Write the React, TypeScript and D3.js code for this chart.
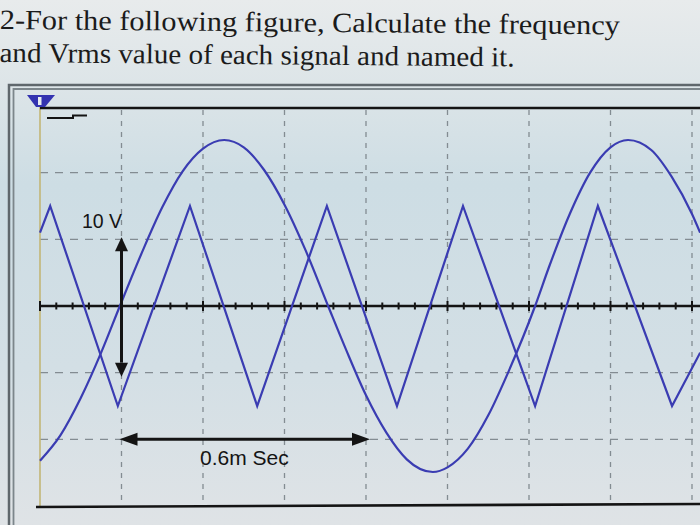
import * as d3 from 'd3';
import React from 'react';

// time in ms (0.2 ms / div), voltage in V (5 V / div)
const triTime = [0, 0.025, 0.191, 0.368, 0.533, 0.704, 0.876, 1.038, 1.215, 1.369, 1.551, 1.62];
const triVolt = [5.5, 7.5, -7.5, 7.5, -7.5, 7.5, -7.5, 7.5, -7.5, 7.5, -7.5, -3.5];

const sineTime = [
  0, 0.05, 0.1, 0.15, 0.196, 0.25, 0.3, 0.35, 0.4, 0.452, 0.5, 0.55, 0.6, 0.65, 0.707,
  0.75, 0.8, 0.85, 0.9, 0.964, 1.0, 1.05, 1.1, 1.15, 1.215, 1.25, 1.3, 1.35, 1.4, 1.443,
  1.5, 1.55, 1.6, 1.62,
];
const sineVolt = [
  -11.6, -9.7, -6.9, -3.5, 0, 4.0, 7.4, 10.1, 11.8, 12.45, 11.9, 10.2, 7.6, 4.3, 0,
  -3.2, -6.7, -9.5, -11.5, -12.45, -12.1, -10.7, -8.2, -4.9, 0, 3.0, 6.9, 10.0, 11.9, 12.45,
  11.7, 9.7, 6.9, 5.5,
];

const gridTimes = [0.2, 0.4, 0.6, 0.8, 1.0, 1.2, 1.4, 1.6];
const gridVolts = [-10, -5, 5, 10];

const titleLines = [
  '2-For the following figure, Calculate the frequency',
  'and Vrms value of each signal and named it.',
];
const voltLabel = '10 V';
const timeLabel = '0.6m Sec';

const W = 700;
const H = 525;

const App: React.FC = () => {
  const x = d3.scaleLinear().domain([0, 1.6]).range([40, 692]);
  const y = d3.scaleLinear().domain([-15, 15]).range([506, 106]);

  const triPath = d3
    .line<[number, number]>()
    .x(d => x(d[0]))
    .y(d => y(d[1]))(triTime.map((t, i) => [t, triVolt[i]]))!;

  const sinePath = d3
    .line<[number, number]>()
    .x(d => x(d[0]))
    .y(d => y(d[1]))
    .curve(d3.curveMonotoneX)(sineTime.map((t, i) => [t, sineVolt[i]]))!;

  // minor ticks on centre axis (5 per division)
  const ticks = d3.range(0, 41).map(i => i * 0.04);

  const trace = '#3a3cb2';
  const ink = '#141414';

  const arrowHead = (tx: number, ty: number, dir: 'up' | 'down' | 'left' | 'right') => {
    const L = 14;
    const w = 6.5;
    let pts: number[][] = [];
    if (dir === 'up') pts = [[tx, ty], [tx - w, ty + L], [tx + w, ty + L]];
    if (dir === 'down') pts = [[tx, ty], [tx - w, ty - L], [tx + w, ty - L]];
    if (dir === 'left') pts = [[tx, ty], [tx + L + 4, ty - w], [tx + L + 4, ty + w]];
    if (dir === 'right') pts = [[tx, ty], [tx - L - 4, ty - w], [tx - L - 4, ty + w]];
    return <polygon points={pts.map(p => p.join(',')).join(' ')} fill={ink} />;
  };

  const x0 = x(0);
  const yTop = y(15);
  const yBot = y(-15);
  const yMid = y(0);

  return (
    <svg width={W} height={H} style={{ position: 'absolute', left: 0, top: 0 }}>
      <defs>
        <linearGradient id="paper" x1="0" y1="0" x2="0" y2="1">
          <stop offset="0" stopColor="#e8ebec" />
          <stop offset="0.16" stopColor="#dde5e8" />
          <stop offset="0.35" stopColor="#cddde4" />
          <stop offset="0.7" stopColor="#d3dfe5" />
          <stop offset="1" stopColor="#dfe3e6" />
        </linearGradient>
      </defs>
      <rect width={W} height={H} fill="url(#paper)" />

      {/* question text */}
      <g fontFamily="'Liberation Serif', 'Times New Roman', serif" fill="#1b1b1b" fontSize={28} transform="rotate(0.5)">
        <text x={0} y={29} textLength={620} lengthAdjust="spacingAndGlyphs">{titleLines[0]}</text>
        <text x={0} y={62} textLength={515} lengthAdjust="spacingAndGlyphs">{titleLines[1]}</text>
      </g>

      {/* outer frame */}
      <path d={`M9,${H} V85 H${W}`} fill="none" stroke="#5f676c" strokeWidth={2.5} />
      <path d={`M13.5,${H} V89 H${W}`} fill="none" stroke="#7c868b" strokeWidth={1.8} />

      {/* dashed grid */}
      <g stroke="#838c92" strokeWidth={1.3}>
        {gridVolts.map(v => (
          <line key={v} x1={x0} x2={W} y1={y(v)} y2={y(v)} strokeDasharray="8 7" />
        ))}
        {gridTimes.map(t => (
          <line key={t} x1={x(t)} x2={x(t)} y1={yTop + 4} y2={yBot} strokeDasharray="5 6" />
        ))}
      </g>

      {/* screen edges */}
      <line x1={x0} x2={x0} y1={yTop} y2={yBot} stroke="#c2b676" strokeWidth={1.6} />
      <line x1={x0} x2={W} y1={yTop + 2} y2={yTop + 2} stroke={ink} strokeWidth={2.6} />
      <line x1={x0 - 4} x2={W} y1={yBot + 1} y2={yBot - 2} stroke={ink} strokeWidth={2.6} />

      {/* trigger marker */}
      <polygon points={`${x0 - 13},${yTop - 11} ${x0 + 15},${yTop - 11} ${x0 + 5},${yTop + 1} ${x0 - 4},${yTop + 1}`} fill="#3333b0" />
      <rect x={x0 - 2} y={yTop - 9} width={3.5} height={8} fill="#e6ecf0" />
      <path d={`M${x0 + 7},${yTop + 12} H${x0 + 33} V${yTop + 9.5} H${x0 + 47}`} fill="none" stroke={ink} strokeWidth={2} />

      {/* centre axis with ticks */}
      <line x1={x0} x2={W} y1={yMid} y2={yMid} stroke={ink} strokeWidth={2.6} />
      <g stroke={ink} strokeWidth={2}>
        {ticks.map((t, i) => (
          <line key={i} x1={x(t)} x2={x(t)} y1={yMid - (i % 5 === 0 ? 5 : 3.5)} y2={yMid + (i % 5 === 0 ? 5 : 3.5)} />
        ))}
      </g>

      {/* traces */}
      <path d={sinePath} fill="none" stroke={trace} strokeWidth={2.2} strokeLinejoin="round" />
      <path d={triPath} fill="none" stroke={trace} strokeWidth={2.2} strokeLinejoin="miter" />

      {/* 10 V annotation */}
      <line x1={x(0.2)} x2={x(0.2)} y1={y(5) + 10} y2={y(-5) - 10} stroke={ink} strokeWidth={3} />
      {arrowHead(x(0.2), y(5) - 2, 'up')}
      {arrowHead(x(0.2), y(-5) + 4, 'down')}
      <text x={82} y={228} fontFamily="'Liberation Sans', Arial, sans-serif" fontSize={19.5} fill={ink}>{voltLabel}</text>

      {/* 0.6 ms annotation */}
      <line x1={x(0.2) + 12} x2={x(0.8) - 12} y1={y(-10)} y2={y(-10)} stroke={ink} strokeWidth={3} />
      {arrowHead(x(0.2) - 2, y(-10), 'left')}
      {arrowHead(x(0.8) + 4, y(-10), 'right')}
      <text x={200} y={465} fontFamily="'Liberation Sans', Arial, sans-serif" fontSize={21} fill={ink}>{timeLabel}</text>
    </svg>
  );
};

export default App;
